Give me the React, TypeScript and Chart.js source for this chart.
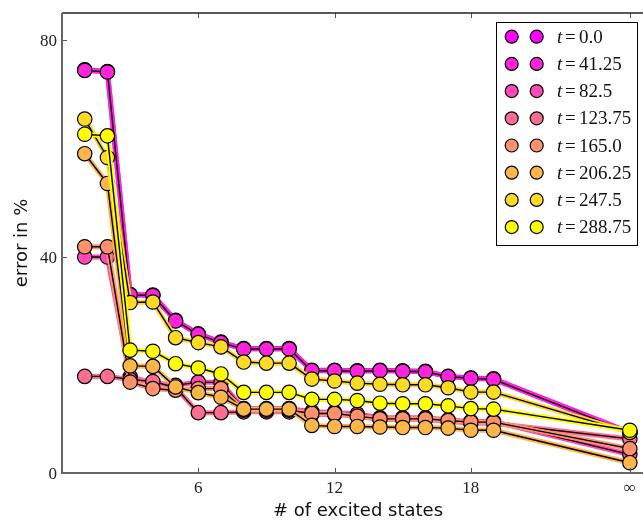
import React, { useEffect, useRef } from 'react';
import { Chart, registerables } from 'chart.js';
Chart.register(...registerables);

const states = [1, 2, 3, 4, 5, 6, 7, 8, 9, 10, 11, 12, 13, 14, 15, 16, 17, 18, 19, 25];
const xTicks = [6, 12, 18, 25];
const xTickLabels = ['6', '12', '18', '∞'];
const yTicks = [0, 40, 80];
const yTickLabels = ['0', '40', '80'];
const timeLabels = ['0.0', '41.25', '82.5', '123.75', '165.0', '206.25', '247.5', '288.75'];
const colors = ['#ff00ff', '#ff24db', '#ff49b6', '#ff6d92', '#ff926d', '#ffb649', '#ffdb24', '#ffff00'];

const errT0 = [74.5, 74.2, 33.0, 32.9, 28.2, 25.7, 24.2, 23.0, 23.0, 23.0, 19.0, 19.0, 18.9, 19.0, 18.9, 18.8, 17.85, 17.55, 17.4, 7.5];
const errT41 = [74.4, 74.1, 32.9, 32.8, 28.1, 25.6, 24.1, 22.9, 22.9, 22.9, 18.9, 18.9, 18.8, 18.9, 18.8, 18.7, 17.8, 17.5, 17.3, 7.4];
const errT82 = [39.9, 39.9, 17.8, 16.6, 16.2, 16.8, 16.7, 11.9, 11.9, 11.9, 11.3, 11.2, 10.9, 10.2, 10.2, 10.2, 9.8, 9.5, 9.5, 3.4];
const errT123 = [17.85, 17.85, 17.3, 16.9, 15.8, 11.15, 11.15, 11.3, 11.3, 11.3, 10.8, 10.8, 10.5, 9.9, 9.9, 9.9, 9.5, 9.2, 9.2, 6.3];
const errT165 = [41.8, 41.8, 16.8, 15.6, 15.3, 15.6, 15.6, 11.6, 11.6, 11.6, 11.0, 11.0, 10.5, 10.0, 10.0, 10.0, 9.7, 9.4, 9.4, 4.5];
const errT206 = [59.0, 53.5, 19.8, 19.7, 15.9, 14.85, 14.0, 11.8, 11.8, 11.8, 8.8, 8.6, 8.6, 8.5, 8.4, 8.4, 8.3, 7.9, 7.9, 1.9];
const errT247 = [65.4, 58.3, 31.5, 31.6, 25.0, 24.1, 23.3, 20.5, 20.3, 20.3, 17.35, 17.0, 16.6, 16.4, 16.3, 16.3, 15.75, 14.95, 14.95, 7.5];
const errT288 = [62.6, 62.3, 22.7, 22.5, 20.2, 19.4, 18.3, 14.9, 14.9, 14.9, 13.6, 13.6, 13.4, 12.9, 12.8, 12.8, 12.4, 11.9, 11.8, 7.9];

export default function App() {
  const ref = useRef<HTMLCanvasElement>(null);

  useEffect(() => {
    const canvas = ref.current;
    if (!canvas) return;
    const series = [errT0, errT41, errT82, errT123, errT165, errT206, errT247, errT288];
    const datasets: any[] = [];
    series.forEach((vals, i) => {
      const data = states.map((x, j) => ({ x, y: vals[j] }));
      datasets.push({
        label: 'glow' + i,
        data,
        borderColor: colors[i],
        borderWidth: 5,
        pointRadius: 0,
        pointHoverRadius: 0,
        fill: false,
        tension: 0,
        order: 2 * (7 - i) + 1,
      });
      datasets.push({
        label: 't=' + timeLabels[i],
        data,
        borderColor: '#000',
        borderWidth: 1.4,
        pointRadius: 7.2,
        pointHoverRadius: 7.2,
        pointBackgroundColor: colors[i],
        pointBorderColor: '#000',
        pointBorderWidth: 1.2,
        fill: false,
        tension: 0,
        order: 2 * (7 - i),
      });
    });

    const decor = {
      id: 'decor',
      afterDraw(chart: any) {
        const ctx = chart.ctx;
        const a = chart.chartArea;
        const xs = chart.scales.x;
        const ys = chart.scales.y;
        ctx.save();
        // ticks (inward)
        ctx.strokeStyle = '#555';
        ctx.lineWidth = 1;
        xTicks.forEach((v) => {
          const px = Math.round(xs.getPixelForValue(v)) + 0.5;
          ctx.beginPath();
          ctx.moveTo(px, a.bottom);
          ctx.lineTo(px, a.bottom - 5);
          ctx.moveTo(px, a.top);
          ctx.lineTo(px, a.top + 5);
          ctx.stroke();
        });
        yTicks.forEach((v) => {
          const py = Math.round(ys.getPixelForValue(v)) + 0.5;
          ctx.beginPath();
          ctx.moveTo(a.left, py);
          ctx.lineTo(a.left + 5, py);
          ctx.stroke();
        });
        // spines
        ctx.strokeStyle = '#222';
        ctx.lineWidth = 1.3;
        ctx.beginPath();
        ctx.moveTo(a.left, a.top);
        ctx.lineTo(a.right, a.top);
        ctx.stroke();
        ctx.strokeStyle = '#666';
        ctx.lineWidth = 2;
        ctx.beginPath();
        ctx.moveTo(a.left, a.top);
        ctx.lineTo(a.left, a.bottom);
        ctx.lineTo(a.right, a.bottom);
        ctx.stroke();

        // tick labels
        ctx.fillStyle = '#222';
        ctx.font = '17px "Liberation Serif"';
        ctx.textAlign = 'center';
        ctx.textBaseline = 'alphabetic';
        xTicks.forEach((v, i) => {
          ctx.fillText(xTickLabels[i], xs.getPixelForValue(v), a.bottom + 20);
        });
        ctx.textAlign = 'right';
        yTicks.forEach((v, i) => {
          ctx.fillText(yTickLabels[i], a.left - 5, ys.getPixelForValue(v) + 6);
        });

        // axis titles
        ctx.fillStyle = '#111';
        ctx.font = '18px "DejaVu Sans"';
        ctx.textAlign = 'center';
        ctx.textBaseline = 'alphabetic';
        ctx.fillText('# of excited states', 358, 516);
        ctx.save();
        ctx.translate(27, (a.top + a.bottom) / 2);
        ctx.rotate(-Math.PI / 2);
        ctx.fillText('error in %', 0, 0);
        ctx.restore();

        // legend
        const bx = 496.5, by = 22.5, bw = 141, bh = 223;
        ctx.fillStyle = '#fff';
        ctx.fillRect(bx, by, bw, bh);
        ctx.strokeStyle = '#000';
        ctx.lineWidth = 1;
        ctx.strokeRect(bx, by, bw, bh);
        timeLabels.forEach((lbl, i) => {
          const cy = 36.7 + i * 27.2;
          [511.7, 536.7].forEach((cx) => {
            ctx.beginPath();
            ctx.arc(cx, cy, 6.5, 0, Math.PI * 2);
            ctx.fillStyle = colors[i];
            ctx.fill();
            ctx.lineWidth = 1.2;
            ctx.strokeStyle = '#000';
            ctx.stroke();
          });
          ctx.fillStyle = '#111';
          ctx.textAlign = 'left';
          ctx.textBaseline = 'alphabetic';
          ctx.font = 'italic 19px "Liberation Serif"';
          ctx.fillText('t', 557, cy + 6);
          ctx.font = '19px "Liberation Serif"';
          ctx.fillText('=', 565, cy + 6);
          ctx.fillText(lbl, 579, cy + 6);
        });
        ctx.restore();
      },
    };

    const chart = new Chart(canvas, {
      type: 'line',
      data: { datasets },
      plugins: [decor],
      options: {
        animation: false,
        responsive: false,
        devicePixelRatio: 1,
        layout: { autoPadding: false, padding: { top: 13, left: 0, right: 0, bottom: 0 } },
        plugins: {
          legend: { display: false },
          tooltip: { enabled: false },
        },
        elements: { line: { borderCapStyle: 'round', borderJoinStyle: 'round' } },
        scales: {
          x: {
            type: 'linear',
            min: 0,
            max: 25.58,
            grid: { display: false, drawTicks: false },
            border: { display: false },
            afterBuildTicks: (s: any) => {
              s.ticks = xTicks.map((v) => ({ value: v }));
            },
            afterFit: (s: any) => {
              s.height = 48;
            },
            ticks: { display: false },
          },
          y: {
            type: 'linear',
            min: 0,
            max: 85,
            grid: { display: false, drawTicks: false },
            border: { display: false },
            afterBuildTicks: (s: any) => {
              s.ticks = yTicks.map((v) => ({ value: v }));
            },
            afterFit: (s: any) => {
              s.width = 62;
            },
            ticks: { display: false },
          },
        },
      },
    });
    return () => chart.destroy();
  }, []);

  return (
    <div style={{ position: 'fixed', left: 0, top: 0, width: 643, height: 521, background: '#fff' }}>
      <canvas ref={ref} width={643} height={521} style={{ display: 'block' }} />
    </div>
  );
}
